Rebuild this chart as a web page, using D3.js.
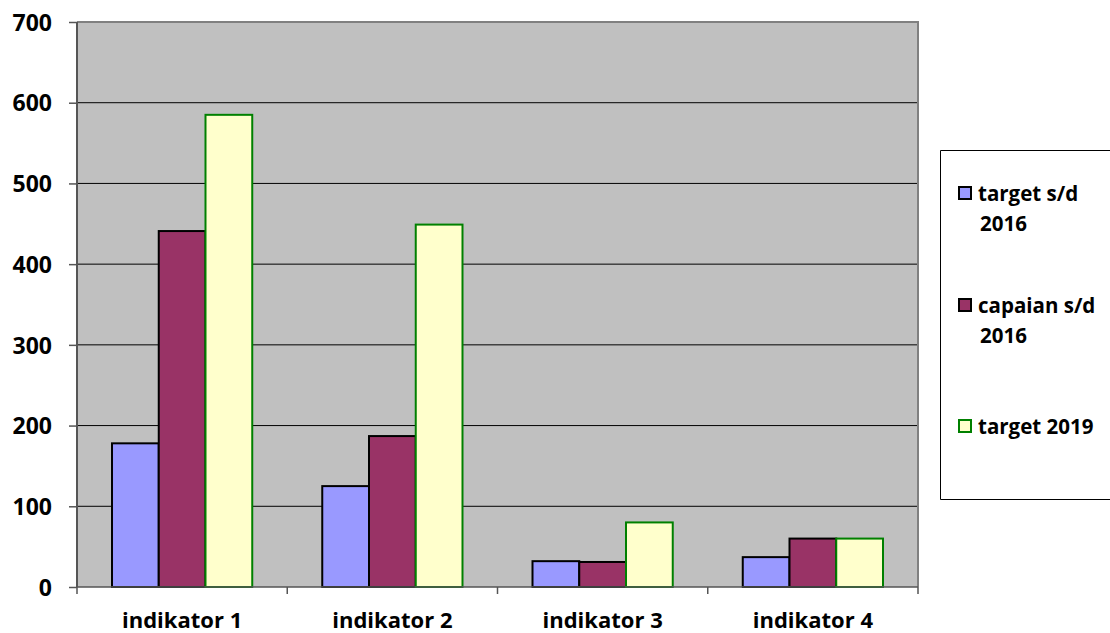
<!DOCTYPE html>
<html><head><meta charset="utf-8">
<script src="https://cdn.jsdelivr.net/npm/d3@7"></script>
<style>body{margin:0;background:#fff}svg{display:block}text{font-family:"Open Sans",Lato,sans-serif;font-weight:bold;fill:#000}</style>
</head><body><svg id="c" width="1110" height="633"></svg>
<script>
const categories = ["indikator 1","indikator 2","indikator 3","indikator 4"];
const seriesNames = ["target s/d 2016","capaian s/d 2016","target 2019"];
const targetSd2016 = [178, 125, 32, 37];
const capaianSd2016 = [441, 187, 31, 60];
const target2019 = [585, 449, 80, 60];
const yTicks = [0,100,200,300,400,500,600,700];
const legendLines = [["target s/d","2016"],["capaian s/d","2016"],["target 2019"]];
const fills = ["#9999FF","#993366","#FFFFCC"];
const strokes = ["#000","#000","#008000"];

const svg = d3.select("#c");
const L=77,R=918,T=22,B=587;
const FF='"Open Sans",Lato,sans-serif';
const x = d3.scaleBand().domain(categories).range([L,R]).paddingInner(0.333).paddingOuter(0.1665);
const x0 = d3.scaleBand().domain(categories).range([L,R]);
const xs = d3.scaleBand().domain(d3.range(3)).range([0,x.bandwidth()]);
const y = d3.scaleLinear().domain([0,700]).range([B,T]);

svg.append("rect").attr("x",L).attr("y",T).attr("width",R-L).attr("height",B-T).attr("fill","#C0C0C0");
svg.append("g").selectAll("line").data(yTicks.filter(d=>d>0&&d<700)).join("line")
  .attr("x1",L).attr("x2",R).attr("y1",d=>y(d)).attr("y2",d=>y(d)).attr("stroke","#000").attr("stroke-width",1);
svg.append("path").attr("d",`M${L},${T}H${R}V${B}`).attr("fill","none").attr("stroke","#808080").attr("stroke-width",2);

const series=[targetSd2016,capaianSd2016,target2019];
series.forEach((vals,si)=>{
  svg.append("g").selectAll("rect").data(vals).join("rect")
    .attr("x",(d,i)=>x(categories[i])+xs(si)).attr("width",xs.bandwidth())
    .attr("y",d=>y(d)).attr("height",d=>B-y(d))
    .attr("fill",fills[si]).attr("stroke",strokes[si]).attr("stroke-width",2);
});

const ya = svg.append("g").attr("transform",`translate(${L},0)`)
  .call(d3.axisLeft(y).tickValues(yTicks).tickSize(8).tickPadding(17));
ya.select(".domain").attr("stroke","#555").attr("stroke-width",2).attr("d",`M0,${T}V${B}`);
ya.selectAll(".tick line").attr("stroke","#555").attr("stroke-width",1.5);
ya.selectAll("text").attr("font-size",23).attr("font-family",FF).attr("font-weight","bold").attr("fill","#000").attr("dy","0.36em");

const xa = svg.append("g").attr("transform",`translate(0,${B})`)
  .call(d3.axisBottom(x0).tickSize(0).tickFormat(""));
xa.select(".domain").attr("stroke","#555").attr("stroke-width",1.5).attr("d",`M${L},0H${R}`);
svg.append("g").selectAll("line").data(categories.concat(["end"])).join("line")
  .attr("x1",(d,i)=>i<4?x0(d):R).attr("x2",(d,i)=>i<4?x0(d):R).attr("y1",B).attr("y2",B+7)
  .attr("stroke","#555").attr("stroke-width",1.5);
svg.append("g").selectAll("text").data(categories).join("text")
  .attr("x",d=>x0(d)+x0.bandwidth()/2).attr("y",628).attr("text-anchor","middle")
  .attr("font-size",22).text(d=>d);

svg.append("path").attr("d","M1112,150.5H940.5V499.5H1112").attr("fill","none").attr("stroke","#000").attr("stroke-width",1);
const ly=[201,313,434];
legendLines.forEach((lines,i)=>{
  svg.append("rect").attr("x",959).attr("y",ly[i]-14).attr("width",12).attr("height",12)
    .attr("fill",fills[i]).attr("stroke",strokes[i]).attr("stroke-width",2);
  lines.forEach((t,j)=>{
    svg.append("text").attr("x",j===0?978:980).attr("y",ly[i]+j*30).attr("font-size",20.5).text(t);
  });
});
</script></body></html>
